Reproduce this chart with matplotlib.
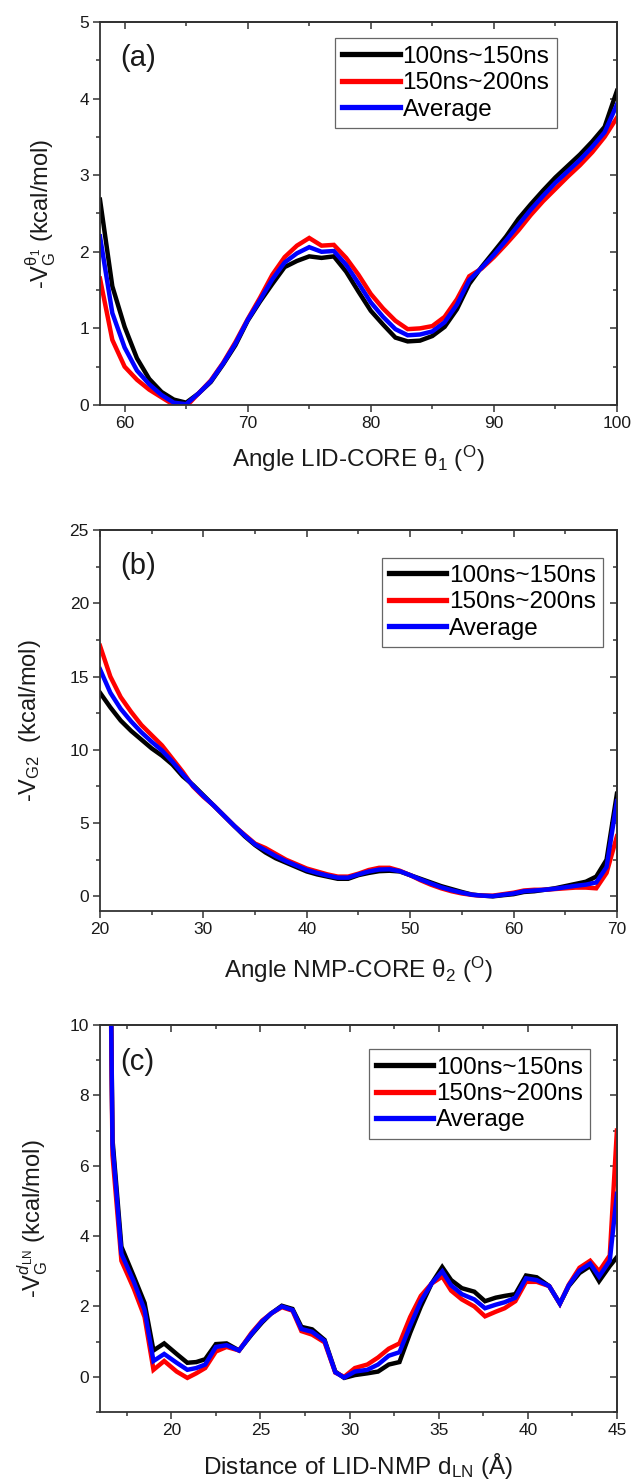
import matplotlib
matplotlib.use("Agg")
import matplotlib.pyplot as plt
from matplotlib.ticker import MultipleLocator

plt.rcParams['font.family'] = ['Liberation Sans', 'DejaVu Sans']
plt.rcParams['mathtext.fontset'] = 'custom'
plt.rcParams['mathtext.rm'] = 'Liberation Sans'
plt.rcParams['mathtext.it'] = 'Liberation Sans:italic'
plt.rcParams['mathtext.bf'] = 'Liberation Sans:bold'

# ---- Panel (a): angle LID-CORE theta_1 ----
theta1 = [58, 59, 60, 61, 62, 63, 64, 65, 66, 67, 68, 69, 70, 71, 72, 73, 74, 75, 76, 77,
          78, 79, 80, 81, 82, 83, 84, 85, 86, 87, 88, 89, 90, 91, 92, 93, 94, 95, 96, 97,
          98, 99, 100]
a_100_150 = [2.68, 1.55, 1.02, 0.61, 0.34, 0.17, 0.07, 0.03, 0.15, 0.30, 0.53, 0.78, 1.10,
             1.35, 1.58, 1.80, 1.88, 1.94, 1.92, 1.94, 1.74, 1.48, 1.23, 1.05, 0.88, 0.83,
             0.84, 0.90, 1.02, 1.25, 1.58, 1.80, 2.00, 2.20, 2.43, 2.62, 2.80, 2.97, 3.12,
             3.27, 3.44, 3.63, 4.10]
a_150_200 = [1.65, 0.85, 0.50, 0.33, 0.20, 0.10, 0.00, -0.02, 0.15, 0.32, 0.55, 0.82, 1.12,
             1.40, 1.70, 1.93, 2.08, 2.18, 2.08, 2.09, 1.92, 1.70, 1.45, 1.26, 1.10, 0.99,
             1.00, 1.03, 1.15, 1.38, 1.68, 1.78, 1.93, 2.10, 2.28, 2.48, 2.66, 2.82, 2.98,
             3.13, 3.30, 3.50, 3.75]
a_average = [2.20, 1.20, 0.75, 0.45, 0.27, 0.13, 0.03, 0.01, 0.15, 0.31, 0.54, 0.80, 1.11,
             1.37, 1.64, 1.86, 1.98, 2.06, 2.00, 2.01, 1.83, 1.59, 1.34, 1.15, 0.99, 0.91,
             0.92, 0.96, 1.08, 1.31, 1.63, 1.79, 1.96, 2.15, 2.35, 2.55, 2.73, 2.90, 3.05,
             3.20, 3.37, 3.56, 3.92]

# ---- Panel (b): angle NMP-CORE theta_2 ----
theta2 = list(range(20, 71))
b_100_150 = [13.9, 12.9, 12.0, 11.3, 10.7, 10.1, 9.6, 9.0, 8.2, 7.6, 6.9, 6.2, 5.5, 4.8, 4.1,
             3.5, 3.0, 2.6, 2.3, 2.0, 1.7, 1.5, 1.35, 1.2, 1.2, 1.45, 1.6, 1.72, 1.75, 1.7,
             1.45, 1.2, 0.95, 0.7, 0.5, 0.3, 0.12, 0.05, 0.0, 0.08, 0.15, 0.3, 0.35, 0.45,
             0.55, 0.7, 0.85, 1.0, 1.35, 2.5, 7.0]
b_150_200 = [17.1, 15.0, 13.6, 12.6, 11.7, 11.0, 10.3, 9.4, 8.5, 7.5, 6.8, 6.2, 5.5, 4.8, 4.2,
             3.6, 3.3, 2.9, 2.5, 2.2, 1.9, 1.7, 1.5, 1.35, 1.35, 1.55, 1.8, 1.95, 1.95, 1.75,
             1.45, 1.1, 0.8, 0.55, 0.35, 0.2, 0.1, 0.05, 0.05, 0.15, 0.25, 0.4, 0.45, 0.45,
             0.5, 0.55, 0.6, 0.6, 0.55, 1.6, 4.1]
b_average = [15.5, 13.9, 12.8, 11.95, 11.2, 10.55, 9.95, 9.2, 8.35, 7.55, 6.85, 6.2, 5.5, 4.8,
             4.15, 3.55, 3.15, 2.75, 2.4, 2.1, 1.8, 1.6, 1.42, 1.28, 1.28, 1.5, 1.7, 1.83,
             1.85, 1.72, 1.45, 1.15, 0.88, 0.62, 0.42, 0.25, 0.11, 0.05, 0.02, 0.11, 0.2,
             0.35, 0.4, 0.45, 0.52, 0.62, 0.72, 0.8, 0.95, 2.0, 6.5]

# ---- Panel (c): LID-NMP distance d_LN ----
d_ln = [16.0, 16.7, 17.2, 17.9, 18.5, 19.0, 19.6, 20.3, 20.9, 21.4, 21.9, 22.5, 23.1, 23.8,
        24.5, 25.1, 25.6, 26.2, 26.8, 27.3, 27.9, 28.6, 29.2, 29.7, 30.3, 31.0, 31.6, 32.2,
        32.8, 33.4, 34.0, 34.6, 35.2, 35.7, 36.3, 37.0, 37.6, 38.2, 38.7, 39.3, 39.9, 40.5,
        41.2, 41.8, 42.3, 42.9, 43.5, 44.0, 44.6, 45.0]
c_100_150 = [40.0, 6.75, 3.7, 2.85, 2.1, 0.75, 0.95, 0.65, 0.4, 0.42, 0.5, 0.93, 0.95, 0.75,
             1.2, 1.55, 1.8, 2.02, 1.93, 1.42, 1.35, 1.05, 0.15, -0.03, 0.05, 0.1, 0.15,
             0.35, 0.42, 1.25, 2.0, 2.65, 3.12, 2.75, 2.52, 2.42, 2.15, 2.25, 2.3, 2.35,
             2.88, 2.83, 2.58, 2.08, 2.58, 2.95, 3.15, 2.72, 3.15, 3.4]
c_150_200 = [40.0, 6.3, 3.3, 2.5, 1.7, 0.2, 0.45, 0.15, -0.03, 0.1, 0.25, 0.72, 0.85, 0.75,
             1.25, 1.6, 1.8, 1.98, 1.88, 1.3, 1.2, 0.98, 0.12, 0.0, 0.25, 0.35, 0.55, 0.8,
             0.95, 1.7, 2.3, 2.65, 2.85, 2.45, 2.2, 2.0, 1.72, 1.85, 1.95, 2.15, 2.7, 2.7,
             2.58, 2.08, 2.62, 3.1, 3.3, 3.0, 3.45, 7.0]
c_average = [40.0, 6.6, 3.5, 2.7, 1.9, 0.45, 0.65, 0.4, 0.2, 0.25, 0.35, 0.85, 0.9, 0.75,
             1.22, 1.58, 1.8, 2.0, 1.9, 1.36, 1.28, 1.02, 0.13, -0.02, 0.15, 0.2, 0.35, 0.6,
             0.7, 1.45, 2.15, 2.65, 3.0, 2.6, 2.35, 2.2, 1.95, 2.05, 2.12, 2.25, 2.8, 2.75,
             2.58, 2.08, 2.6, 3.02, 3.22, 2.85, 3.3, 5.2]

series_names = ['100ns~150ns', '150ns~200ns', 'Average']
series_colors = ['#000000', '#ff0000', '#0000ff']

AX_COLOR = '#333333'
TXT_COLOR = '#1a1a1a'

fig = plt.figure(figsize=(6.35, 14.84), dpi=100)

panels = [
    dict(pos=[0.1575, 0.7271, 0.814, 0.2581], x=theta1,
         ys=[a_100_150, a_150_200, a_average],
         xlim=(58, 100), ylim=(0, 5), xmaj=10, xmin=5, ymaj=1, ymin=0.5,
         xlabel=r'Angle LID-CORE $\mathrm{\theta}_1$ ($^{\mathrm{O}}$)',
         ylabel=r'-V$_{\mathrm{G}}^{\mathrm{\theta}_{1}}$ (kcal/mol)',
         tag='(a)', ylab_x=-0.115, xlab_y=-0.14,
         leg=(0.455, 0.957)),
    dict(pos=[0.1575, 0.3861, 0.814, 0.2567], x=theta2,
         ys=[b_100_150, b_150_200, b_average],
         xlim=(20, 70), ylim=(-1, 25), xmaj=10, xmin=5, ymaj=5, ymin=2.5,
         xlabel=r'Angle NMP-CORE $\mathrm{\theta}_2$ ($^{\mathrm{O}}$)',
         ylabel=r'-V$_{\mathrm{G2}}$  (kcal/mol)',
         tag='(b)', ylab_x=-0.135, xlab_y=-0.155,
         leg=(0.545, 0.928)),
    dict(pos=[0.1575, 0.0485, 0.814, 0.2608], x=d_ln,
         ys=[c_100_150, c_150_200, c_average],
         xlim=(16, 45), ylim=(-1, 10), xmaj=5, xmin=2.5, ymaj=2, ymin=1,
         xlabel=r'Distance of LID-NMP d$_{\mathrm{LN}}$ (Å)',
         ylabel=r'-V$_{\mathrm{G}}^{d_{\mathrm{LN}}}$ (kcal/mol)',
         tag='(c)', ylab_x=-0.13, xlab_y=-0.14,
         leg=(0.52, 0.937)),
]

for p in panels:
    ax = fig.add_axes(p['pos'])
    for yv, name, col in zip(p['ys'], series_names, series_colors):
        ax.plot(p['x'], yv, color=col, lw=3.2, label=name, solid_joinstyle='miter')
    ax.set_xlim(*p['xlim'])
    ax.set_ylim(*p['ylim'])

    ax.xaxis.set_major_locator(MultipleLocator(p['xmaj']))
    ax.xaxis.set_minor_locator(MultipleLocator(p['xmin']))
    ax.yaxis.set_major_locator(MultipleLocator(p['ymaj']))
    ax.yaxis.set_minor_locator(MultipleLocator(p['ymin']))
    if p['tag'] == '(b)':
        ax.set_yticks([0, 5, 10, 15, 20, 25])
    if p['tag'] == '(c)':
        ax.set_yticks([0, 2, 4, 6, 8, 10])

    for sp in ax.spines.values():
        sp.set_color(AX_COLOR)
        sp.set_linewidth(1.3)
    ax.tick_params(which='both', direction='out', top=False, right=False,
                   color=AX_COLOR, labelcolor=TXT_COLOR, labelsize=12.5, width=1.1)
    ax.tick_params(which='major', length=5, pad=3)
    ax.tick_params(which='minor', length=3)

    # inward ticks on the mirrored top and right axes
    top = ax.secondary_xaxis('top')
    top.xaxis.set_major_locator(MultipleLocator(p['xmaj']))
    top.xaxis.set_minor_locator(MultipleLocator(p['xmin']))
    top.tick_params(which='both', direction='in', labeltop=False, color=AX_COLOR, width=1.1)
    top.tick_params(which='major', length=5)
    top.tick_params(which='minor', length=3)
    top.spines['top'].set_color(AX_COLOR)
    top.spines['top'].set_linewidth(1.3)
    right = ax.secondary_yaxis('right')
    right.yaxis.set_major_locator(MultipleLocator(p['ymaj']))
    right.yaxis.set_minor_locator(MultipleLocator(p['ymin']))
    right.tick_params(which='both', direction='in', labelright=False, color=AX_COLOR, width=1.1)
    right.tick_params(which='major', length=5)
    right.tick_params(which='minor', length=3)
    right.spines['right'].set_color(AX_COLOR)
    right.spines['right'].set_linewidth(1.3)

    ax.set_xlabel(p['xlabel'], fontsize=17.5, color=TXT_COLOR, va='center')
    ax.xaxis.set_label_coords(0.5, p['xlab_y'])
    ax.set_ylabel(p['ylabel'], fontsize=17, color=TXT_COLOR, va='center')
    ax.yaxis.set_label_coords(p['ylab_x'], 0.5)

    ax.text(0.04, 0.905, p['tag'], transform=ax.transAxes, fontsize=21,
            color=TXT_COLOR, va='center', ha='left')

    leg = ax.legend(loc='upper left', bbox_to_anchor=p['leg'], fontsize=17.5,
                    frameon=True, fancybox=False, framealpha=1.0, edgecolor='#666666',
                    handlelength=2.35, handletextpad=0.12, borderpad=0.3,
                    labelspacing=0.18, borderaxespad=0.0)
    leg.get_frame().set_linewidth(0.9)
    for ln in leg.get_lines():
        ln.set_linewidth(3.8)

fig.savefig('out.png', dpi=100)
